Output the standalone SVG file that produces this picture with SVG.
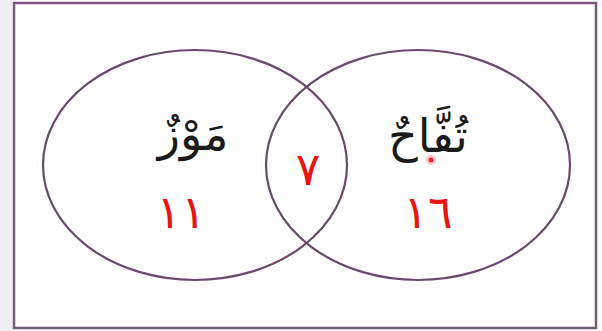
<svg xmlns="http://www.w3.org/2000/svg" width="602" height="331" viewBox="0 0 602 331">
<style>
.set{fill:none;stroke:#6a4a6c;stroke-width:2.2}
.word{font-family:"DejaVu Sans",serif;font-size:46px;fill:#1a1a1a;text-anchor:middle}
.num{font-family:"DejaVu Sans",serif;font-size:46px;fill:#e8140f;text-anchor:middle}
</style>
<rect x="0" y="0" width="602" height="331" fill="#ffffff"/>
<rect x="0" y="0" width="12" height="331" fill="#eeeef3"/>
<rect x="14" y="3" width="582" height="325" fill="#ffffff" stroke="#7a5a7c" stroke-width="2.5"/>
<g id="connectors"></g>
<g id="set-banana">
<ellipse class="set" cx="195" cy="165" rx="152" ry="115"/>
<text class="word" x="193" y="150" direction="rtl">مَوْزٌ</text>
<text class="num" x="181" y="228">١١</text>
</g>
<g id="set-apple">
<ellipse class="set" cx="418" cy="165" rx="152" ry="115"/>
<text class="word" x="428" y="152" direction="rtl">تُفَّاحٌ</text>
<text class="num" x="428" y="228">١٦</text>
</g>
<g id="intersection">
<text class="num" x="308" y="185">٧</text>
</g>
<circle cx="431" cy="160" r="5" fill="#ff6060" opacity="0.35"/>
<circle cx="431" cy="160" r="2.5" fill="#ee2a2a"/>
</svg>
